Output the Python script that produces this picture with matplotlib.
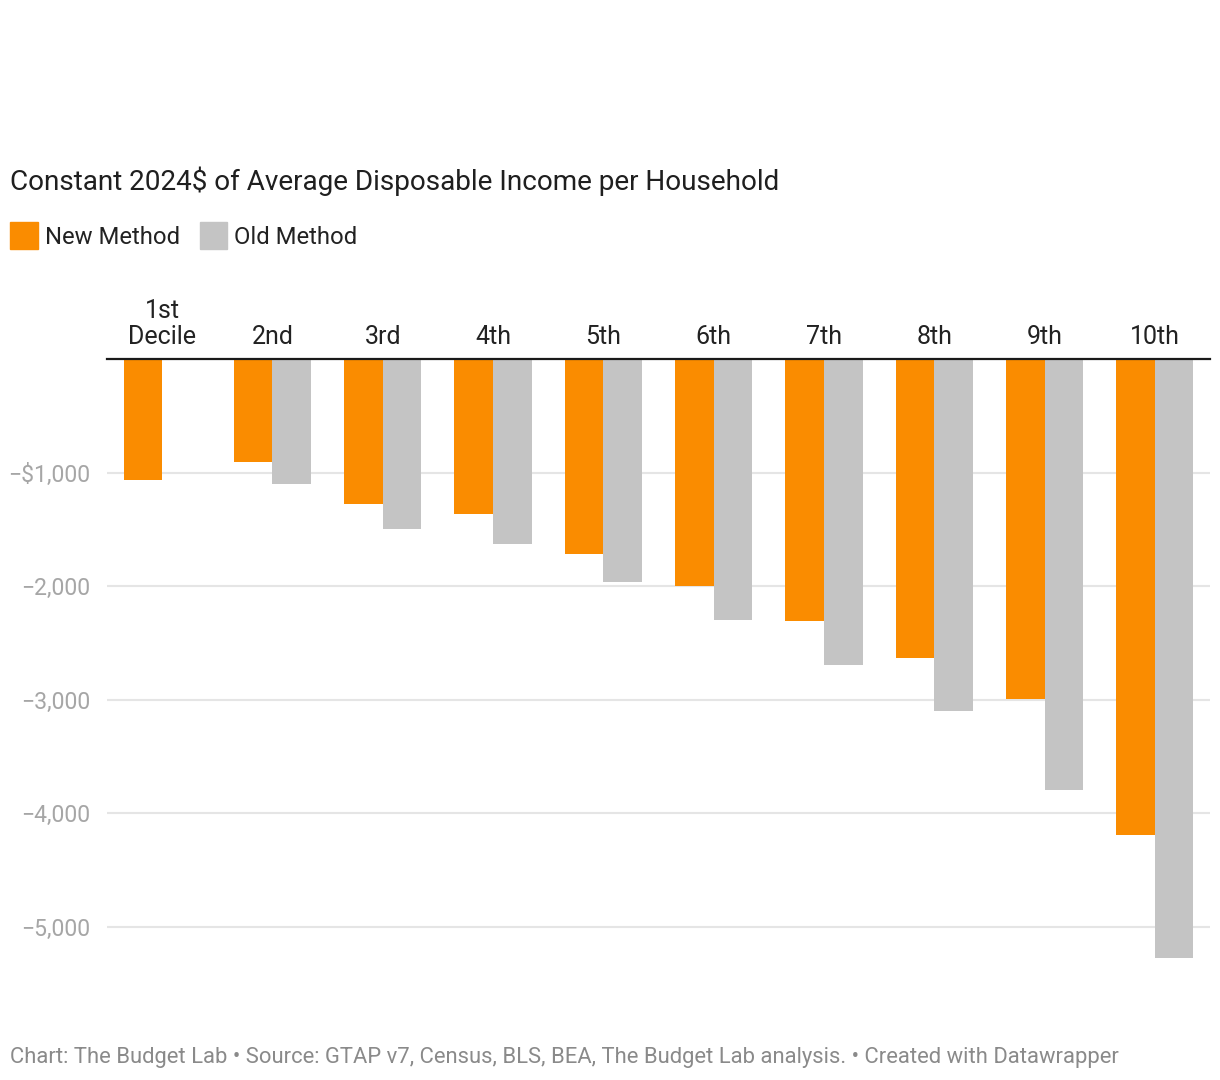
import matplotlib.pyplot as plt
from matplotlib.patches import Rectangle
import numpy as np

plt.rcParams['font.family'] = ['Roboto', 'DejaVu Sans']

# Data (constant 2024$ change in average disposable income per household)
deciles = ['1st\nDecile', '2nd', '3rd', '4th', '5th', '6th', '7th', '8th', '9th', '10th']
new_method = [-1063, -905, -1274, -1362, -1722, -2003, -2311, -2636, -2996, -4192]
old_method = [np.nan, -1098, -1494, -1634, -1968, -2302, -2698, -3102, -3796, -5281]
yticks = [-1000, -2000, -3000, -4000, -5000]
ytick_labels = ['\u2212$1,000', '\u22122,000', '\u22123,000', '\u22124,000', '\u22125,000']

ORANGE = '#fa8c00'
GREY = '#c4c4c4'

W, H = 1220, 1080
fig = plt.figure(figsize=(W / 100, H / 100), dpi=100)

# axes placed in pixel terms: left 107, right 1210, zero at y=359, -5300 at bottom
y0_px = 359
px_per_k = 113.5
ymin = -5300
bottom_px = y0_px + (-ymin / 1000) * px_per_k
ax = fig.add_axes([107 / W, 1 - bottom_px / H, (1210 - 107) / W, (bottom_px - y0_px) / H])

x = np.arange(len(deciles))
w = 0.35
ax.bar(x - w / 2, new_method, width=w, color=ORANGE, zorder=3)
ax.bar(x + w / 2, old_method, width=w, color=GREY, zorder=3)

ax.set_xlim(-0.5, len(deciles) - 0.5)
ax.set_ylim(ymin, 0)

for t in yticks:
    ax.axhline(t, color='#e5e5e5', lw=1.5, zorder=1)
ax.axhline(0, color='#1a1a1a', lw=1.6, zorder=4, clip_on=False)

ax.set_yticks(yticks)
ax.set_yticklabels(ytick_labels, fontsize=16.6, color='#a6a6a6')
ax.tick_params(axis='y', length=0, pad=12)
ax.set_xticks([])
for s in ax.spines.values():
    s.set_visible(False)

for xi, lab in zip(x, deciles):
    ax.annotate(lab, (xi, 0), xytext=(0, 10), textcoords='offset pixels',
                ha='center', va='bottom', fontsize=18, color='#222222',
                linespacing=1.1, annotation_clip=False)

# title
fig.text(10 / W, 1 - 181 / H, 'Constant 2024$ of Average Disposable Income per Household',
         fontsize=20.1, color='#1f1f1f', ha='left', va='center')

# legend
fig.patches.append(Rectangle((10 / W, 1 - 249 / H), 27.5 / W, 27.5 / H,
                             transform=fig.transFigure, color=ORANGE))
fig.text(45 / W, 1 - 237 / H, 'New Method', fontsize=17.2, color='#222222', ha='left', va='center')
fig.patches.append(Rectangle((200 / W, 1 - 249 / H), 27.5 / W, 27.5 / H,
                             transform=fig.transFigure, color=GREY))
fig.text(234 / W, 1 - 237 / H, 'Old Method', fontsize=17.2, color='#222222', ha='left', va='center')

# footer
fig.text(10 / W, 1 - 1057 / H,
         'Chart: The Budget Lab \u2022 Source: GTAP v7, Census, BLS, BEA, The Budget Lab analysis. \u2022 Created with Datawrapper',
         fontsize=15.85, color='#8a8a8a', ha='left', va='center')

fig.savefig('out.png', dpi=100)
